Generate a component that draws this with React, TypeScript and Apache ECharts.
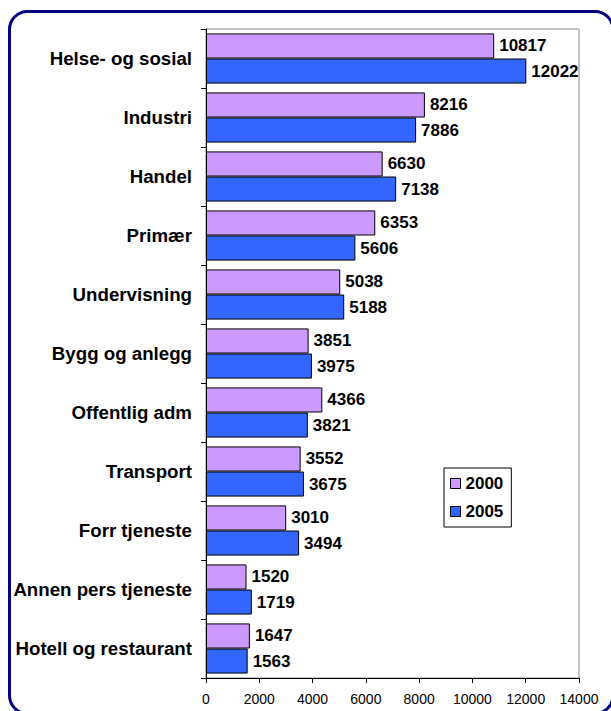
import React, { useEffect, useRef } from "react";
import * as echarts from "echarts";

const categories = [
  "Helse- og sosial",
  "Industri",
  "Handel",
  "Primær",
  "Undervisning",
  "Bygg og anlegg",
  "Offentlig adm",
  "Transport",
  "Forr tjeneste",
  "Annen pers tjeneste",
  "Hotell og restaurant",
];
const values2000 = [10817, 8216, 6630, 6353, 5038, 3851, 4366, 3552, 3010, 1520, 1647];
const values2005 = [12022, 7886, 7138, 5606, 5188, 3975, 3821, 3675, 3494, 1719, 1563];
const seriesNames = ["2000", "2005"];

export default function App() {
  const ref = useRef<HTMLDivElement>(null);
  useEffect(() => {
    if (!ref.current) return;
    const chart = echarts.init(ref.current, null, { renderer: "svg" });
    const font = "Arial, 'Liberation Sans', sans-serif";
    const labelCfg = {
      show: true,
      position: "right",
      distance: 5,
      color: "#000",
      fontWeight: "bold",
      fontSize: 17,
      fontFamily: font,
    };
    chart.setOption({
      animation: false,
      backgroundColor: "#fff",
      graphic: [
        {
          type: "rect",
          shape: { x: 9.5, y: 11.5, width: 603.5, height: 702, r: 18 },
          style: { fill: "none", stroke: "#000080", lineWidth: 3 },
          z: 100,
        },
      ],
      grid: {
        left: 206,
        right: 32,
        top: 29,
        bottom: 33,
        show: true,
        borderColor: "#888",
        borderWidth: 1,
        backgroundColor: "transparent",
      },
      legend: {
        orient: "vertical",
        left: 444,
        top: 468,
        itemWidth: 10,
        itemHeight: 10,
        itemGap: 11,
        padding: [7, 8, 7, 6],
        borderColor: "#000",
        borderWidth: 1,
        backgroundColor: "#fff",
        icon: "rect",
        itemStyle: { borderColor: "#000", borderWidth: 1 },
        textStyle: { color: "#000", fontWeight: "bold", fontSize: 17, fontFamily: font },
        data: seriesNames,
      },
      xAxis: {
        type: "value",
        min: 0,
        max: 14000,
        interval: 2000,
        axisLine: { show: true, lineStyle: { color: "#000", width: 1 } },
        axisTick: { show: true, length: 5, lineStyle: { color: "#000" } },
        splitLine: { show: false },
        axisLabel: {
          color: "#000",
          fontSize: 14,
          fontFamily: font,
          margin: 14,
          formatter: (v: number) => String(v),
        },
      },
      yAxis: {
        type: "category",
        inverse: true,
        data: categories,
        axisLine: { show: true, lineStyle: { color: "#000", width: 1 } },
        axisTick: { show: true, length: 5, lineStyle: { color: "#000" } },
        axisLabel: { color: "#000", fontSize: 18.7, fontWeight: "bold", fontFamily: font, margin: 14 },
      },
      series: [
        {
          name: seriesNames[0],
          type: "bar",
          data: values2000,
          barGap: "0%",
          barCategoryGap: "15%",
          itemStyle: { color: "#CC99FF", borderColor: "#000", borderWidth: 1 },
          label: labelCfg,
        },
        {
          name: seriesNames[1],
          type: "bar",
          data: values2005,
          barGap: "0%",
          barCategoryGap: "15%",
          itemStyle: { color: "#3366FF", borderColor: "#000", borderWidth: 1 },
          label: labelCfg,
        },
      ],
    });
    return () => chart.dispose();
  }, []);
  return (
    <div
      ref={ref}
      style={{ position: "absolute", left: 0, top: 0, width: 611, height: 711 }}
    />
  );
}
